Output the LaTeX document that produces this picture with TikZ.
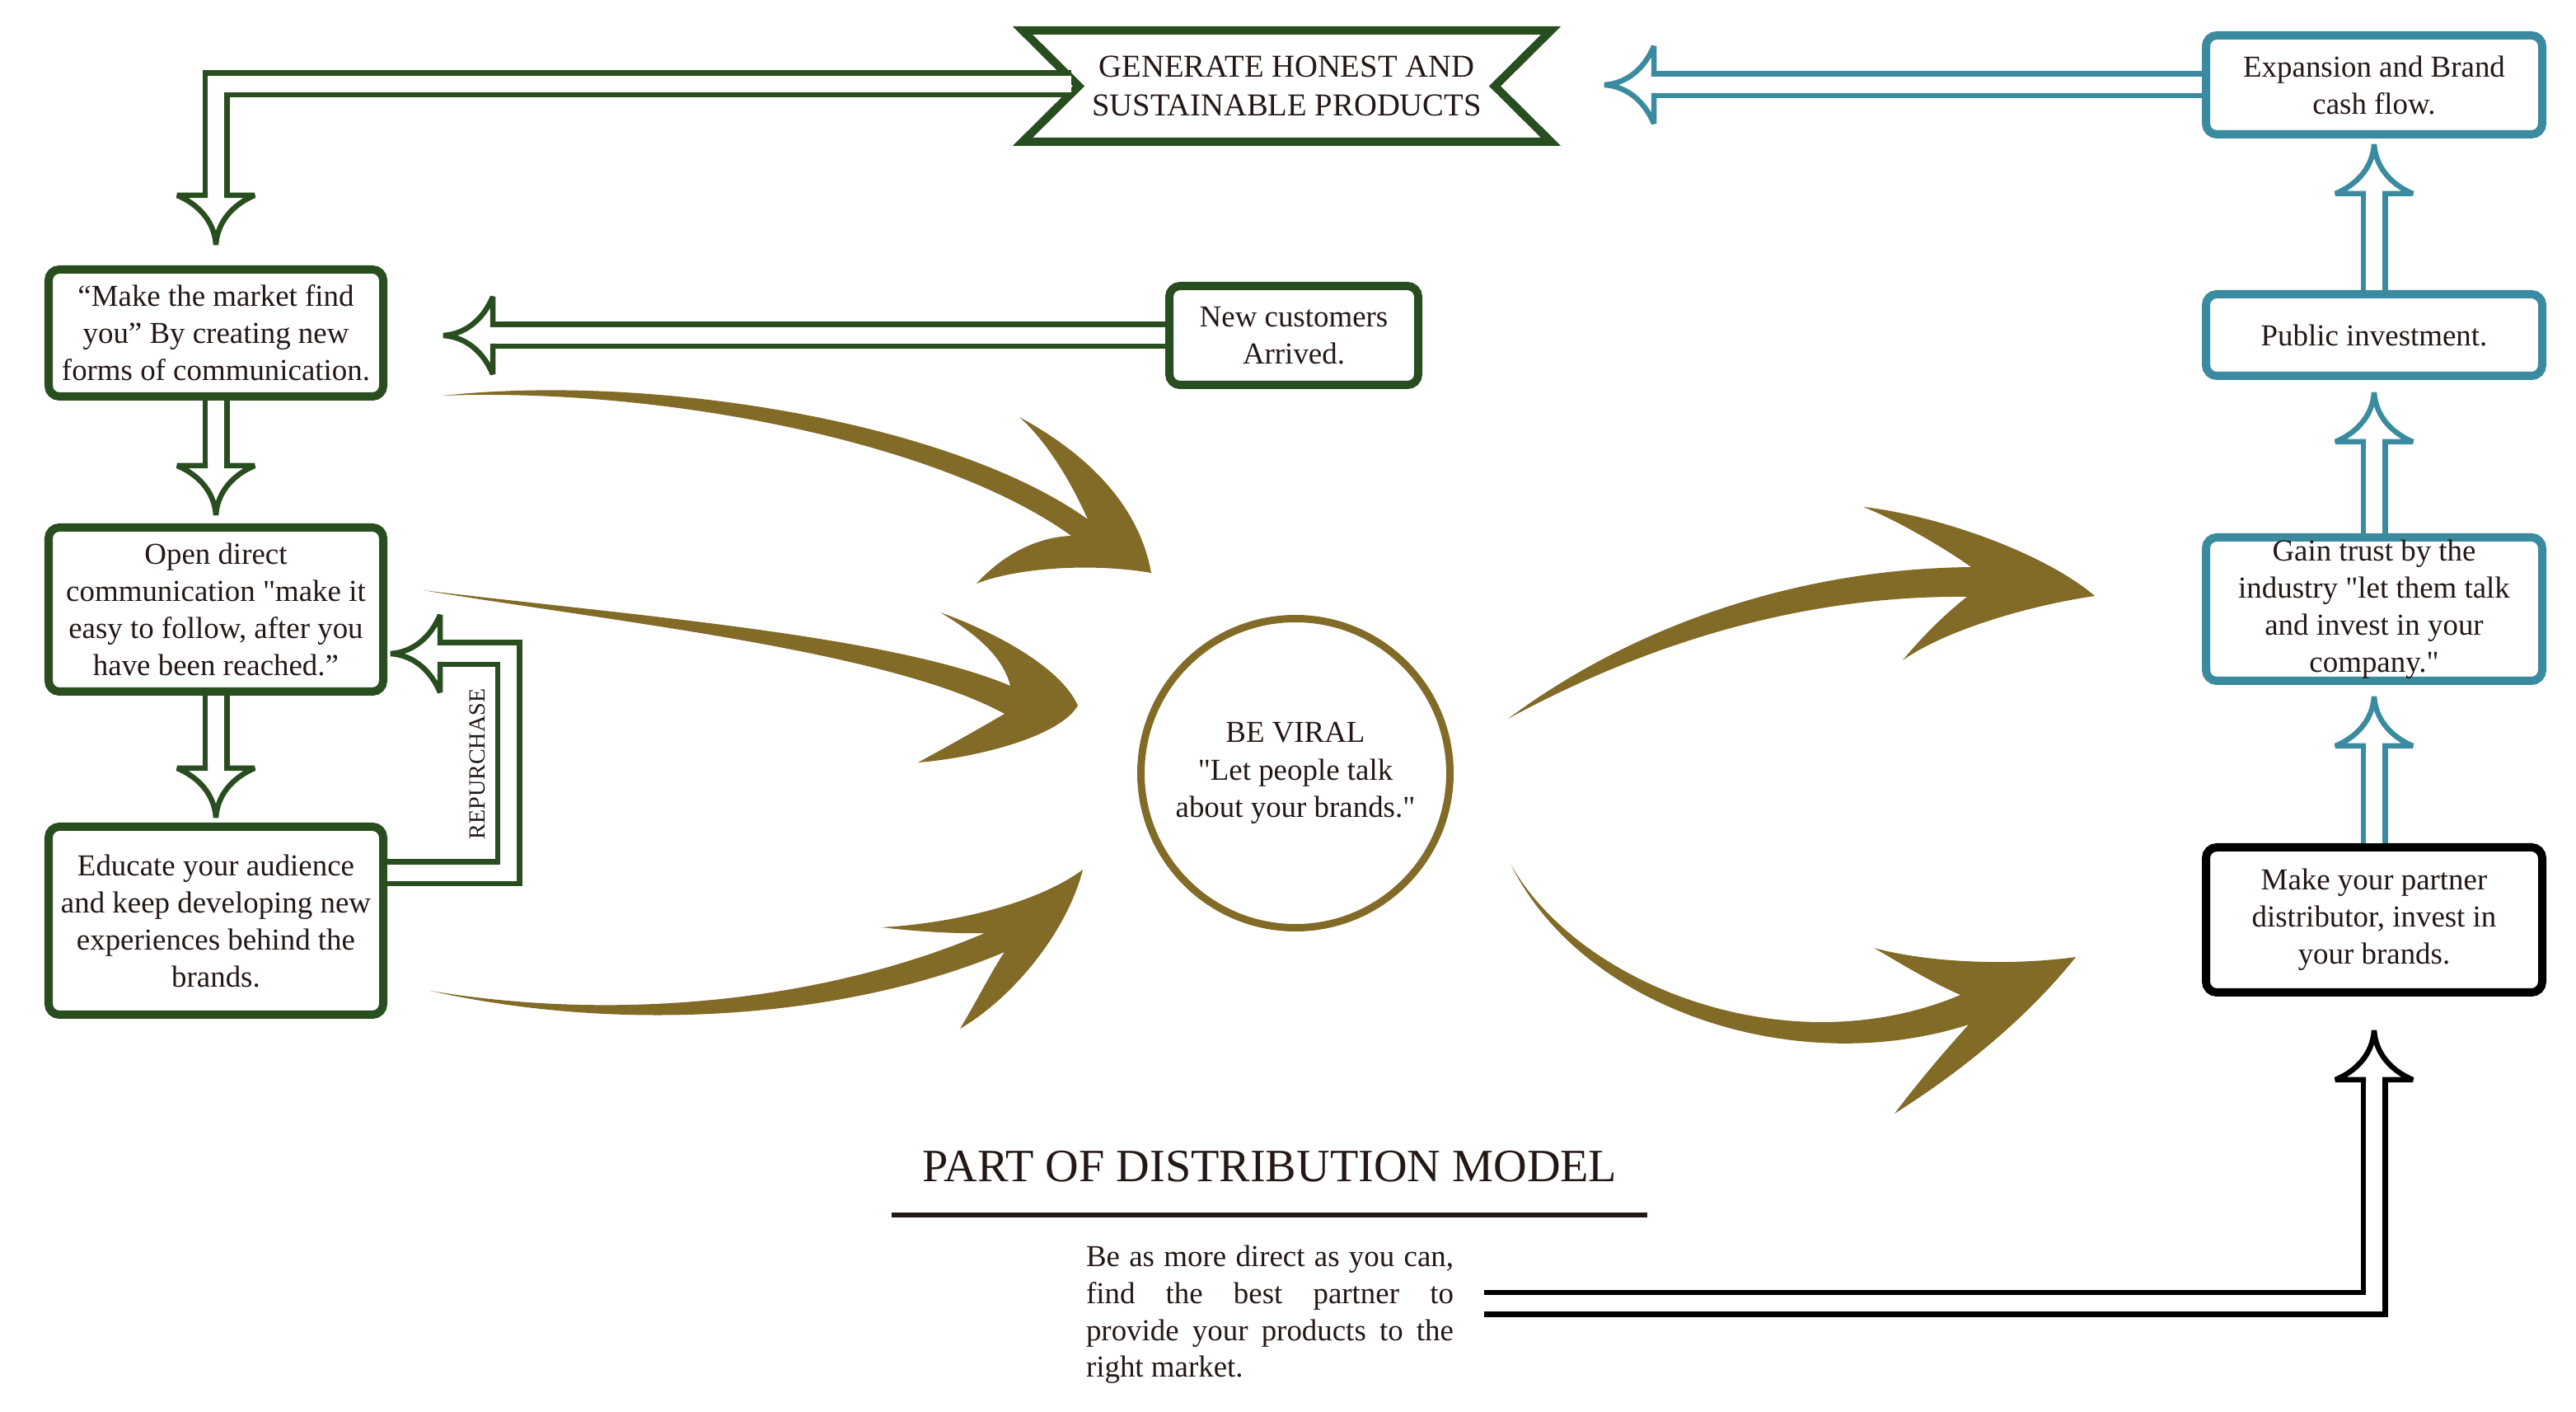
\documentclass[tikz,border=0pt]{standalone}
\usepackage{fontspec}
\setmainfont{Liberation Serif}[Ligatures=TeXOff]
\usetikzlibrary{calc}
\definecolor{dgreen}{RGB}{40,77,30}
\definecolor{tealblue}{RGB}{58,139,160}
\definecolor{swbrown}{RGB}{130,106,39}
\definecolor{ink}{RGB}{35,24,21}
\tikzset{
  gbox/.style={draw=dgreen, line width=0.1cm, rounded corners=0.13cm, fill=white, align=center, inner sep=0pt, minimum width=4.06cm, text=ink, font=\fontsize{10.5}{12.8}\selectfont},
  dshaft/.style={draw=#1, double=white, double distance=0.2cm, line width=0.065cm},
  hhead/.pic={
    \fill[white] (0,0.1) -- (0,0.47) .. controls (0.1,0.23) and (0.3,0.02) .. (0.6,0) .. controls (0.3,-0.02) and (0.1,-0.23) .. (0,-0.47) -- (0,-0.1) -- cycle;
    \draw[pic actions, line width=0.065cm, miter limit=4] (0,0.1) -- (0,0.47) .. controls (0.1,0.23) and (0.3,0.02) .. (0.6,0) .. controls (0.3,-0.02) and (0.1,-0.23) .. (0,-0.47) -- (0,-0.1);
  },
  swoosh/.style={fill=swbrown, draw=none}
}
\begin{document}
\begin{tikzpicture}
\useasboundingbox (0,0) rectangle (31.26,-17.13);

\node[gbox, minimum height=1.54cm] (find) at (2.62,-4.04) {“Make the market find\\you” By creating new\\forms of communication.};
\node[gbox, minimum height=1.99cm] (open) at (2.62,-7.395) {Open direct\\communication "make it\\easy to follow, after you\\have been reached.”};
\node[gbox, minimum height=2.28cm] (educ) at (2.62,-11.17) {Educate your audience\\and keep developing new\\experiences behind the\\brands.};
\node[gbox, minimum width=3.02cm, minimum height=1.2cm] (newc) at (15.70,-4.07) {New customers\\Arrived.};
\node[gbox, draw=tealblue, minimum width=4.08cm, minimum height=1.2cm] (exp) at (28.81,-1.03) {Expansion and Brand\\cash flow.};
\node[gbox, draw=tealblue, minimum width=4.08cm, minimum height=0.99cm] (pub) at (28.81,-4.065) {Public investment.};
\node[gbox, draw=tealblue, minimum width=4.08cm, minimum height=1.74cm] (gain) at (28.81,-7.39) {Gain trust by the\\industry "let them talk\\and invest in your\\company."};
\node[gbox, draw=black, minimum width=4.08cm, minimum height=1.76cm] (part) at (28.81,-11.16) {Make your partner\\distributor, invest in\\your brands.};
\node[circle, draw=swbrown, line width=0.09cm, minimum size=3.75cm, align=center, text=ink, font=\fontsize{10.5}{13}\selectfont] (viral) at (15.72,-9.38) {BE VIRAL\\"Let people talk\\about your brands."};

\node[text=ink, align=center, font=\fontsize{11}{13.6}\selectfont] (gen) at (15.615,-1.045) {GENERATE HONEST AND\\SUSTAINABLE PRODUCTS};
\draw[dgreen, line width=0.1cm] ($(gen)+(-3.205,0.675)$) -- ($(gen)+(3.205,0.675)$) -- ($(gen)+(2.525,0)$) -- ($(gen)+(3.205,-0.675)$) -- ($(gen)+(-3.205,-0.675)$) -- ($(gen)+(-2.525,0)$) -- cycle;

\coordinate (genW) at (13.0,-1.02);
\draw[dshaft=dgreen] (genW) -| ($(find.north)+(0,0.85)$);
\pic[draw=dgreen, rotate=-90] at ($(find.north)+(0,0.85)$) {hhead};
\draw[dshaft=dgreen] (find.south) -- ($(open.north)+(0,0.7)$);
\pic[draw=dgreen, rotate=-90] at ($(open.north)+(0,0.7)$) {hhead};
\draw[dshaft=dgreen] (open.south) -- ($(educ.north)+(0,0.66)$);
\pic[draw=dgreen, rotate=-90] at ($(educ.north)+(0,0.66)$) {hhead};
\coordinate (nch) at (5.98,-4.07);
\draw[dshaft=dgreen] (newc.west) -- (nch);
\pic[draw=dgreen, rotate=180] at (nch) {hhead};
\coordinate (rpb) at (5.34,-7.93);
\draw[dshaft=dgreen] ($(educ.east)+(0,0.58)$) -| ($(rpb)+(0.83,0)$) -- (rpb);
\pic[draw=dgreen, rotate=180] at (rpb) {hhead};
\node[rotate=90, text=ink, font=\fontsize{8}{9}\selectfont] (rep) at (5.79,-9.27) {REPURCHASE};

\coordinate (exph) at (20.07,-1.03);
\draw[dshaft=tealblue] (exp.west) -- (exph);
\pic[draw=tealblue, rotate=180] at (exph) {hhead};
\draw[dshaft=tealblue] (pub.north) -- ($(exp.south)+(0,-0.67)$);
\pic[draw=tealblue, rotate=90] at ($(exp.south)+(0,-0.67)$) {hhead};
\draw[dshaft=tealblue] (gain.north) -- ($(pub.south)+(0,-0.75)$);
\pic[draw=tealblue, rotate=90] at ($(pub.south)+(0,-0.75)$) {hhead};
\draw[dshaft=tealblue] (part.north) -- ($(gain.south)+(0,-0.74)$);
\pic[draw=tealblue, rotate=90] at ($(gain.south)+(0,-0.74)$) {hhead};

\coordinate (blk) at (18.01,-15.81);
\draw[dshaft=black] (blk) -| ($(part.south)+(0,-1.01)$);
\pic[draw=black, rotate=90] at ($(part.south)+(0,-1.01)$) {hhead};

\fill[swoosh] (5.37,-4.80) .. controls (8.00,-4.52) and (11.60,-5.15) .. (13.20,-6.30)
  .. controls (13.00,-5.85) and (12.70,-5.35) .. (12.37,-5.06)
  .. controls (13.00,-5.40) and (13.80,-6.00) .. (13.97,-6.95)
  .. controls (13.20,-6.82) and (12.30,-6.90) .. (11.85,-7.08)
  .. controls (12.15,-6.75) and (12.55,-6.52) .. (13.00,-6.50)
  .. controls (11.40,-5.35) and (8.00,-4.70) .. cycle;
\fill[swoosh] (5.13,-7.16) .. controls (7.50,-7.45) and (10.80,-7.70) .. (12.26,-8.32)
  .. controls (12.18,-8.00) and (11.90,-7.72) .. (11.41,-7.43)
  .. controls (11.95,-7.62) and (12.85,-8.05) .. (13.08,-8.56)
  .. controls (12.85,-8.95) and (11.80,-9.20) .. (11.14,-9.25)
  .. controls (11.60,-9.00) and (11.95,-8.80) .. (12.19,-8.66)
  .. controls (10.80,-7.90) and (7.50,-7.55) .. cycle;
\fill[swoosh] (5.22,-12.02) .. controls (7.50,-12.40) and (10.00,-12.15) .. (11.95,-11.32)
  .. controls (11.60,-11.33) and (11.10,-11.30) .. (10.70,-11.25)
  .. controls (11.60,-11.20) and (12.60,-10.95) .. (13.14,-10.55)
  .. controls (12.95,-11.30) and (12.30,-12.10) .. (11.65,-12.48)
  .. controls (11.85,-12.15) and (12.05,-11.75) .. (12.19,-11.55)
  .. controls (10.30,-12.35) and (7.60,-12.55) .. cycle;
\fill[swoosh] (18.30,-8.72) .. controls (19.80,-7.60) and (21.80,-6.90) .. (23.92,-6.88)
  .. controls (23.60,-6.65) and (23.00,-6.30) .. (22.61,-6.15)
  .. controls (23.50,-6.25) and (24.80,-6.70) .. (25.42,-7.23)
  .. controls (24.60,-7.35) and (23.60,-7.65) .. (23.09,-8.01)
  .. controls (23.30,-7.75) and (23.60,-7.45) .. (23.87,-7.24)
  .. controls (21.80,-7.22) and (19.90,-7.85) .. cycle;
\fill[swoosh] (18.33,-10.48) .. controls (19.15,-11.95) and (21.70,-12.95) .. (23.79,-12.07)
  .. controls (23.40,-11.90) and (23.00,-11.65) .. (22.74,-11.50)
  .. controls (23.40,-11.68) and (24.40,-11.72) .. (25.19,-11.61)
  .. controls (24.60,-12.35) and (23.80,-13.00) .. (22.99,-13.51)
  .. controls (23.30,-13.10) and (23.60,-12.75) .. (23.89,-12.43)
  .. controls (21.80,-13.10) and (19.20,-12.25) .. cycle;

\node[text=ink, font=\fontsize{16}{19}\selectfont] (title) at (15.41,-14.15) {PART OF DISTRIBUTION MODEL};
\draw[ink, line width=0.06cm] (10.82,-14.735) -- (19.99,-14.735);
\node[text=ink, align=left, inner sep=0pt, font=\fontsize{10.5}{12.7}\selectfont] (para) at (15.41,-15.95) {\makebox[4.46cm][s]{Be as more direct as you can,}\\\makebox[4.46cm][s]{find the best partner to}\\\makebox[4.46cm][s]{provide your products to the}\\right market.};
\end{tikzpicture}
\end{document}
